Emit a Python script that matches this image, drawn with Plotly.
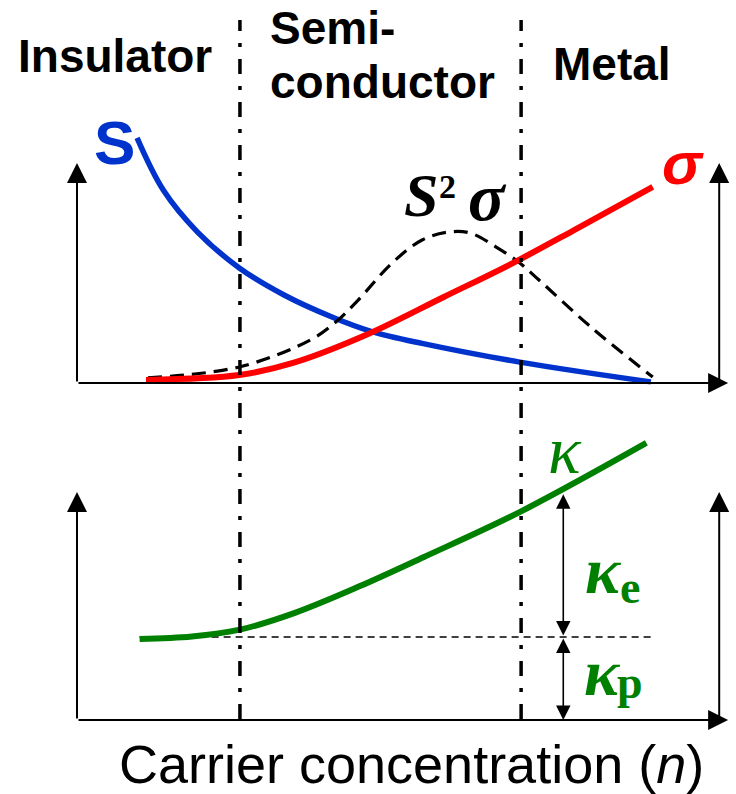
import plotly.graph_objects as go

# Schematic carrier-concentration dependence (arbitrary units)
# Upper panel: Seebeck coefficient S, conductivity sigma, power factor S^2*sigma
n_S = [0.94, 1.35, 1.89, 2.54, 3.24, 3.99, 4.60, 5.40, 6.93, 8.98]
S = [1.114, 0.877, 0.685, 0.523, 0.40, 0.30, 0.235, 0.18, 0.095, 0.005]

n_sigma = [1.08, 2.54, 3.38, 4.52, 5.74, 6.82, 7.78, 9.01]
sigma = [0.014, 0.036, 0.091, 0.218, 0.391, 0.545, 0.695, 0.891]

n_pf = [1.11, 2.54, 3.65, 4.05, 4.40, 4.93, 5.40, 5.81, 6.15, 6.56, 6.93, 7.23, 8.04, 9.01]
pf = [0.023, 0.073, 0.195, 0.277, 0.377, 0.545, 0.65, 0.686, 0.682, 0.618, 0.545, 0.468, 0.255, 0.027]

# Lower panel: total thermal conductivity kappa = kappa_p + kappa_e
n_kappa = [0.98, 1.80, 2.53, 3.41, 4.41, 5.43, 6.95, 8.91]
kappa = [0.355, 0.366, 0.395, 0.47, 0.585, 0.715, 0.915, 1.215]
kappa_p = 0.364
kappa_p_span = [0.98, 9.0]
n_split = 7.61          # where kappa is split into kappa_e and kappa_p
kappa_at_split = 0.99

# Regime boundaries and names
regime_bounds = [2.55, 6.95]
regime_names = ["Insulator", "Semi-", "conductor", "Metal"]
axis_title = "Carrier concentration (<i>n</i>)"

W, H = 736, 794
BLUE, RED, GREEN = "#0033cc", "#ff0000", "#008000"
SANS = "Liberation Sans, Arial"
SERIF = "Liberation Serif, Times New Roman"

fig = go.Figure()

fig.add_trace(go.Scatter(x=n_S, y=S, mode="lines", yaxis="y",
                         line=dict(color=BLUE, width=5.5, shape="spline")))
fig.add_trace(go.Scatter(x=n_pf, y=pf, mode="lines", yaxis="y",
                         line=dict(color="black", width=3.2, shape="spline", dash="14px,8px")))
fig.add_trace(go.Scatter(x=n_sigma, y=sigma, mode="lines", yaxis="y",
                         line=dict(color=RED, width=6, shape="spline")))

fig.add_trace(go.Scatter(x=kappa_p_span, y=[kappa_p, kappa_p], mode="lines", yaxis="y2",
                         line=dict(color="black", width=1.6, dash="7px,5px")))
fig.add_trace(go.Scatter(x=n_kappa, y=kappa, mode="lines", yaxis="y2",
                         line=dict(color=GREEN, width=6, shape="spline")))

# Regime boundaries (dash-dot verticals through both panels)
for xb in regime_bounds:
    fig.add_shape(type="line", xref="x", yref="paper", x0=xb, x1=xb,
                  y0=1 - 719 / H, y1=1 - 20 / H,
                  line=dict(color="black", width=3.5, dash="15px,12px,4px,12px"))

ann = []


def arrow(x, y, ax, ay, yref, width=2, size=2.0, side="end"):
    ann.append(dict(x=x, y=y, ax=ax, ay=ay, xref="x", yref=yref, axref="x", ayref=yref,
                    text="", showarrow=True, arrowhead=2, startarrowhead=2,
                    arrowsize=size, startarrowsize=size, arrowwidth=width,
                    arrowcolor="black", arrowside=side, standoff=0, startstandoff=0))


# Axes with arrow tips for both panels
for yr in ("y", "y2"):
    arrow(10.19, 0, 0, 0, yr)
    arrow(0, 1.0, 0, 0, yr)
    arrow(10.05, 1.0, 10.05, 0, yr)

# kappa_e and kappa_p double arrows
arrow(n_split, kappa_at_split, n_split, kappa_p, "y2", width=1.6, size=1.8, side="end+start")
arrow(n_split, 0, n_split, kappa_p, "y2", width=1.6, size=1.8, side="end+start")


def label(text, px, py, family, size, color="black", weight="normal", style="normal",
          xanchor="center"):
    ann.append(dict(x=px / W, y=1 - py / H, xref="paper", yref="paper", text=text,
                    showarrow=False, xanchor=xanchor, yanchor="middle",
                    font=dict(family=family, size=size, color=color,
                              weight=weight, style=style)))


label(regime_names[0], 115, 56, SANS, 46, weight="bold")
label(regime_names[1], 268, 28, SANS, 46, weight="bold", xanchor="left")
label(regime_names[2], 268, 82, SANS, 46, weight="bold", xanchor="left")
label(regime_names[3], 612, 64, SANS, 46, weight="bold")

label("S", 114, 142, SANS, 62, color=BLUE, weight="bold")
label("σ", 683, 163, SANS, 60, color=RED, weight="bold", style="italic")

label("S", 421, 195, SERIF, 62, weight="bold", style="italic")
label("2", 447, 187, SERIF, 34, weight="bold")
label("σ", 488, 197, SERIF, 68, weight="bold", style="italic")

label("κ", 565, 450, SERIF, 68, color=GREEN, style="italic")
label("κ", 603, 570, SERIF, 66, color=GREEN, weight="bold", style="italic")
label("e", 630, 587, SERIF, 46, color=GREEN, weight="bold")
label("κ", 602, 672, SERIF, 66, color=GREEN, weight="bold", style="italic")
label("p", 630, 682, SERIF, 46, color=GREEN, weight="bold")

label(axis_title, 411, 764, SANS, 54)

x_px = 63.9   # pixels per unit of n
fig.update_layout(
    width=W, height=H, autosize=False,
    margin=dict(l=0, r=0, t=0, b=0, pad=0),
    paper_bgcolor="white", plot_bgcolor="white",
    showlegend=False,
    xaxis=dict(range=[-77 / x_px, (W - 77) / x_px], visible=False, domain=[0, 1]),
    yaxis=dict(range=[-(H - 383) / 220, 383 / 220], visible=False, domain=[0, 1]),
    yaxis2=dict(range=[-(H - 720) / 228, 720 / 228], visible=False, domain=[0, 1],
                overlaying="y"),
    annotations=ann,
)

fig.write_html("out.html", config={"displayModeBar": False})
